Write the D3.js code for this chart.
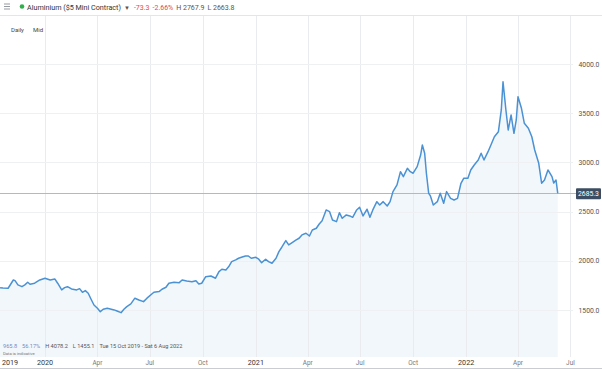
<!DOCTYPE html>
<html>
<head>
<meta charset="utf-8">
<script src="https://cdn.jsdelivr.net/npm/d3@7"></script>
<style>
  body { margin: 0; background: #fff; }
  text { font-family: Roboto, "Open Sans", sans-serif; }
</style>
</head>
<body>
<div class="canvas"></div>
<script>
// price readings (daily close, approx)
const dates = [
  "2019-10-15", "2019-10-20", "2019-10-29", "2019-11-07", "2019-11-10", "2019-11-15",
  "2019-11-22", "2019-11-27", "2019-12-02", "2019-12-06", "2019-12-14", "2019-12-23",
  "2020-01-01", "2020-01-10", "2020-01-18", "2020-01-23", "2020-01-30", "2020-02-04",
  "2020-02-09", "2020-02-16", "2020-02-25", "2020-03-01", "2020-03-06", "2020-03-11",
  "2020-03-16", "2020-03-21", "2020-03-26", "2020-04-01", "2020-04-06", "2020-04-11",
  "2020-04-18", "2020-04-25", "2020-04-30", "2020-05-05", "2020-05-12", "2020-05-17",
  "2020-05-22", "2020-05-29", "2020-06-05", "2020-06-12", "2020-06-20", "2020-06-26",
  "2020-07-08", "2020-07-17", "2020-07-22", "2020-07-29", "2020-08-03", "2020-08-12",
  "2020-08-21", "2020-08-26", "2020-09-03", "2020-09-12", "2020-09-19", "2020-09-24",
  "2020-09-29", "2020-10-06", "2020-10-15", "2020-10-23", "2020-10-29", "2020-11-03",
  "2020-11-10", "2020-11-15", "2020-11-20", "2020-11-27", "2020-12-02", "2020-12-07",
  "2020-12-14", "2020-12-19", "2020-12-24", "2021-01-01", "2021-01-06", "2021-01-11",
  "2021-01-18", "2021-01-23", "2021-01-29", "2021-02-05", "2021-02-10", "2021-02-15",
  "2021-02-22", "2021-02-27", "2021-03-05", "2021-03-12", "2021-03-17", "2021-03-22",
  "2021-03-29", "2021-04-04", "2021-04-09", "2021-04-16", "2021-04-21", "2021-04-26",
  "2021-05-03", "2021-05-09", "2021-05-14", "2021-05-21", "2021-05-26", "2021-05-31",
  "2021-06-07", "2021-06-13", "2021-06-18", "2021-06-25", "2021-06-30", "2021-07-06",
  "2021-07-13", "2021-07-18", "2021-07-23", "2021-07-30", "2021-08-04", "2021-08-10",
  "2021-08-17", "2021-08-22", "2021-08-27", "2021-09-03", "2021-09-09", "2021-09-14",
  "2021-09-21", "2021-09-26", "2021-10-01", "2021-10-08", "2021-10-14", "2021-10-17",
  "2021-10-21", "2021-10-24", "2021-10-28", "2021-10-31", "2021-11-05", "2021-11-12",
  "2021-11-17", "2021-11-23", "2021-11-28", "2021-12-05", "2021-12-11", "2021-12-17",
  "2021-12-23", "2021-12-28", "2022-01-04", "2022-01-09", "2022-01-15", "2022-01-22",
  "2022-01-27", "2022-02-01", "2022-02-08", "2022-02-13", "2022-02-19", "2022-02-26",
  "2022-03-03", "2022-03-06", "2022-03-11", "2022-03-15", "2022-03-20", "2022-03-25",
  "2022-03-29", "2022-04-01", "2022-04-07", "2022-04-12", "2022-04-19", "2022-04-25",
  "2022-04-30", "2022-05-07", "2022-05-12", "2022-05-17", "2022-05-23", "2022-05-30",
  "2022-06-02", "2022-06-06", "2022-06-09"
];
const prices = [
  1727, 1724, 1721, 1805, 1798, 1755,
  1737, 1755, 1782, 1762, 1772, 1805,
  1823, 1805, 1816, 1772, 1704, 1727,
  1737, 1714, 1704, 1717, 1680, 1697,
  1670, 1609, 1551, 1518, 1483, 1508,
  1518, 1508, 1501, 1490, 1473, 1508,
  1534, 1562, 1620, 1602, 1585, 1620,
  1680, 1687, 1711, 1731, 1772, 1782,
  1778, 1805, 1795, 1788, 1798, 1765,
  1772, 1839, 1846, 1823, 1890, 1914,
  1907, 1941, 1991, 2009, 2026, 2036,
  2049, 2049, 2026, 2036, 2016, 1981,
  2016, 1991, 1975, 2026, 2093, 2138,
  2205, 2161, 2184, 2212, 2229, 2263,
  2280, 2252, 2313, 2331, 2374, 2408,
  2517, 2499, 2415, 2398, 2489, 2432,
  2466, 2456, 2442, 2517, 2544, 2456,
  2524, 2442, 2517, 2601, 2567, 2601,
  2557, 2601, 2703, 2771, 2906, 2855,
  2940, 2906, 2890, 2957, 3075, 3177,
  3093, 2890, 2686, 2659, 2567, 2601,
  2686, 2585, 2703, 2635, 2618, 2635,
  2788, 2839, 2839, 2923, 2974, 3025,
  3093, 3025, 3109, 3177, 3261, 3312,
  3533, 3820, 3533, 3329, 3482, 3296,
  3431, 3668, 3550, 3397, 3347, 3261,
  3126, 2991, 2788, 2821, 2923, 2855,
  2790, 2821, 2685.3
];

const yTicks = [1500, 2000, 2500, 3000, 3500, 4000];
const xTickDates = [
  "2020-01-01", "2020-04-01", "2020-07-01", "2020-10-01", "2021-01-01", "2021-04-01",
  "2021-07-01", "2021-10-01", "2022-01-01", "2022-04-01", "2022-07-01"
];
const xTickLabels = ["2020", "Apr", "Jul", "Oct", "2021", "Apr", "Jul", "Oct", "2022", "Apr", "Jul"];
const lastPrice = 2685.3;

const width = 602;
const height = 369;
const plotRight = 573;
const plotTop = 16;
const plotBottom = 357;

const parseDate = d3.timeParse("%Y-%m-%d");
const data = dates.map((d, i) => ({ date: parseDate(d), value: prices[i] }));

const svg = d3
  .select(".canvas")
  .append("svg")
  .attr("width", width)
  .attr("height", height);

// Scales
const xScale = d3
  .scaleTime()
  .domain([parseDate("2020-01-01"), parseDate("2022-04-01")])
  .range([45, 518]);

const yScale = d3.scaleLinear().domain([1500, 4000]).range([310, 64]);

// header
svg
  .append("line")
  .attr("x1", 0)
  .attr("y1", 15.5)
  .attr("x2", width)
  .attr("y2", 15.5)
  .attr("stroke", "#e3e5e8")
  .attr("stroke-width", 1);

[4, 6.5, 9].forEach((y) => {
  svg
    .append("line")
    .attr("x1", 4)
    .attr("y1", y)
    .attr("x2", 10)
    .attr("y2", y)
    .attr("stroke", "#8a8f96")
    .attr("stroke-width", 0.9);
});

svg
  .append("circle")
  .attr("cx", 22)
  .attr("cy", 6.5)
  .attr("r", 2.3)
  .attr("fill", "#2fb14a");

const header = svg
  .append("text")
  .attr("x", 27)
  .attr("y", 9.5)
  .attr("font-size", 7.2);

header.append("tspan").attr("fill", "#333").text("Aluminium ($5 Mini Contract)");
header.append("tspan").attr("fill", "#555").attr("dx", 3).attr("font-size", 6).text("▼");
header.append("tspan").attr("fill", "#e04a4a").attr("dx", 4).attr("font-size", 7).text("-73.3");
header.append("tspan").attr("fill", "#e04a4a").attr("dx", 3).attr("font-size", 7).text("-2.66%");
header.append("tspan").attr("fill", "#555").attr("dx", 3).attr("font-size", 7).text("H 2767.9");
header.append("tspan").attr("fill", "#555").attr("dx", 3).attr("font-size", 7).text("L 2663.8");

svg
  .append("text")
  .attr("x", 11)
  .attr("y", 32)
  .attr("font-size", 6)
  .attr("fill", "#444")
  .text("Daily");

svg
  .append("text")
  .attr("x", 33)
  .attr("y", 32)
  .attr("font-size", 6)
  .attr("fill", "#444")
  .text("Mid");

// area under line
const area = d3
  .area()
  .x((d) => xScale(d.date))
  .y0(plotBottom)
  .y1((d) => yScale(d.value));

svg
  .append("path")
  .datum(data)
  .attr("d", area)
  .attr("fill", "#f2f7fc");

// grid
svg
  .selectAll(".vgrid")
  .data(xTickDates)
  .enter()
  .append("line")
  .attr("class", "vgrid")
  .attr("x1", (d) => Math.round(xScale(parseDate(d))) + 0.5)
  .attr("x2", (d) => Math.round(xScale(parseDate(d))) + 0.5)
  .attr("y1", plotTop)
  .attr("y2", plotBottom)
  .attr("stroke", "#e9ebee")
  .attr("stroke-width", 1);

svg
  .selectAll(".hgrid")
  .data(yTicks)
  .enter()
  .append("line")
  .attr("class", "hgrid")
  .attr("x1", 0)
  .attr("x2", plotRight)
  .attr("y1", (d) => Math.round(yScale(d)) + 0.5)
  .attr("y2", (d) => Math.round(yScale(d)) + 0.5)
  .attr("stroke", "#eef0f2")
  .attr("stroke-width", 1);

// last price line
svg
  .append("line")
  .attr("x1", 0)
  .attr("x2", plotRight + 3)
  .attr("y1", Math.round(yScale(lastPrice)) + 0.5)
  .attr("y2", Math.round(yScale(lastPrice)) + 0.5)
  .attr("stroke", "#b4b8c0")
  .attr("stroke-width", 1);

// price line
const line = d3
  .line()
  .x((d) => xScale(d.date))
  .y((d) => yScale(d.value));

svg
  .append("path")
  .datum(data)
  .attr("d", line)
  .attr("fill", "none")
  .attr("stroke", "#4b92d4")
  .attr("stroke-width", 1.5)
  .attr("stroke-linejoin", "round");

// right axis labels
svg
  .selectAll(".ylabel")
  .data(yTicks)
  .enter()
  .append("text")
  .attr("class", "ylabel")
  .attr("x", 589)
  .attr("y", (d) => yScale(d) + 2.5)
  .attr("text-anchor", "middle")
  .attr("font-size", 6.8)
  .attr("fill", "#555")
  .text((d) => d.toFixed(1));

svg
  .append("rect")
  .attr("x", 576)
  .attr("y", yScale(lastPrice) - 5)
  .attr("width", 25)
  .attr("height", 11)
  .attr("rx", 1)
  .attr("fill", "#3c4d63");

svg
  .append("text")
  .attr("x", 588.5)
  .attr("y", yScale(lastPrice) + 3)
  .attr("text-anchor", "middle")
  .attr("font-size", 6.8)
  .attr("fill", "white")
  .text(lastPrice.toFixed(1));

// summary strip
const info = svg
  .append("text")
  .attr("x", 3)
  .attr("y", 348)
  .attr("font-size", 5.6);

info.append("tspan").attr("fill", "#6e8fc4").text("965.8");
info.append("tspan").attr("fill", "#6e8fc4").attr("dx", 5).text("56.17%");
info.append("tspan").attr("fill", "#555").attr("dx", 5).text("H 4078.2");
info.append("tspan").attr("fill", "#555").attr("dx", 5).text("L 1455.1");
info.append("tspan").attr("fill", "#555").attr("dx", 5).text("Tue 15 Oct 2019 - Sat 6 Aug 2022");

svg
  .append("text")
  .attr("x", 3)
  .attr("y", 355)
  .attr("font-size", 4.2)
  .attr("fill", "#777")
  .text("Data is indicative");

// x axis labels
svg
  .append("rect")
  .attr("x", 0)
  .attr("y", plotBottom)
  .attr("width", width)
  .attr("height", height - plotBottom)
  .attr("fill", "white");

svg
  .append("text")
  .attr("x", 2)
  .attr("y", 365)
  .attr("font-size", 7.2)
  .attr("fill", "#333")
  .text("2019");

svg
  .selectAll(".xlabel")
  .data(xTickDates)
  .enter()
  .append("text")
  .attr("class", "xlabel")
  .attr("x", (d) => xScale(parseDate(d)))
  .attr("y", 365)
  .attr("text-anchor", "middle")
  .attr("font-size", (d, i) => (xTickLabels[i].length === 4 ? 7.2 : 6.4))
  .attr("fill", (d, i) => (xTickLabels[i].length === 4 ? "#333" : "#777"))
  .text((d, i) => xTickLabels[i]);

svg
  .append("line")
  .attr("x1", 0)
  .attr("x2", width)
  .attr("y1", 368.5)
  .attr("y2", 368.5)
  .attr("stroke", "#c9ccd2")
  .attr("stroke-width", 1);
</script>
</body>
</html>
